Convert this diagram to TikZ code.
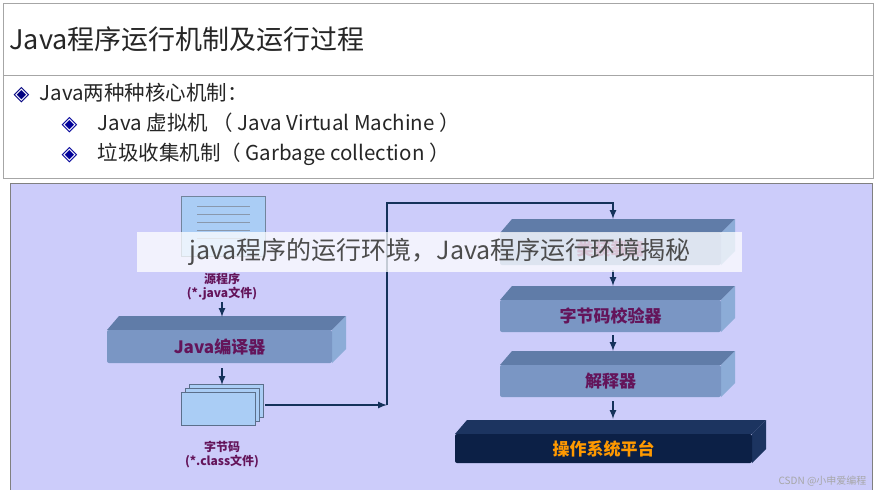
\documentclass[tikz,border=0pt]{standalone}
\usepackage{fontspec}
\setmainfont{Liberation Sans}
\newfontfamily\cjk{Noto Sans CJK SC}
\newfontfamily\sym{DejaVu Sans}
\usetikzlibrary{positioning}
\definecolor{panel}{RGB}{204,204,250}
\definecolor{slabfront}{RGB}{122,150,196}
\definecolor{slabtop}{RGB}{96,124,168}
\definecolor{slabside}{RGB}{140,172,215}
\definecolor{osfront}{RGB}{12,32,70}
\definecolor{ostop}{RGB}{28,52,96}
\definecolor{flow}{RGB}{20,50,90}
\definecolor{plum}{RGB}{100,20,90}
\definecolor{doc}{RGB}{170,205,245}
\tikzset{
    flowline/.style={flow, line width=2pt},
    flowarrow/.style={flow, line width=2pt, -latex},
    label/.style={font=\fontsize{12}{14}\selectfont\cjk\bfseries, text=plum, align=center, inner sep=0pt},
    boxtext/.style={font=\fontsize{17}{20}\selectfont\cjk\bfseries, text=plum},
    headtext/.style={anchor=west, font=\fontsize{20.5}{24}\selectfont\cjk, text=black!85},
}
% slab: name, x1, y1 (front top-left), x2, y2 (front bottom-right), front, top, side colours, text
\newcommand{\slab}[9]{%
    \fill[#7] (#2,#3) -- (#2+12,#3-14) -- (#4+14,#3-14) -- (#4,#3) -- cycle;
    \fill[#8] (#4,#3) -- (#4+14,#3-14) -- (#4+14,#5-14) -- (#4,#5) -- cycle;
    \fill[#6, rounded corners=2pt] (#2,#3) rectangle (#4,#5);
    \node[boxtext] (#1) at ({(#2+#4)/2},{(#3+#5)/2}) {#9};
}
\begin{document}
\begin{tikzpicture}[x=1pt, y=-1pt]
    \useasboundingbox (0,0) rectangle (879,490);
    \fill[white] (0,0) rectangle (879,490);

    % header
    \draw[gray!70] (3,3) rectangle (873,75);
    \draw[gray!70] (3,75) rectangle (873,178);
    \node[anchor=west, font=\fontsize{27}{30}\selectfont\cjk, text=black!85] (title) at (6,39) {Java程序运行机制及运行过程};
    \node[headtext] (core) at (10,93) {{\sym\color{blue!50!black}◈}\enspace Java两种种核心机制：};
    \node[headtext] (jvm) at (58,123) {{\sym\color{blue!60!black}◈}\quad Java 虚拟机 （ Java Virtual Machine ）};
    \node[headtext] (gc) at (58,154) {{\sym\color{blue!60!black}◈}\quad 垃圾收集机制（ Garbage collection ）};

    % panel
    \draw[gray, fill=panel] (10,183) rectangle (872,490);

    % source file
    \draw[flow!60, fill=doc] (181,196) rectangle (265,256);
    \foreach \y in {206,214,222,230,238}
        \draw[flow!50, line width=1pt] (197,\y) -- (250,\y);
    \node[label] (src) at (222,287) {源程序\\(*.java文件)};

    % compiler
    \slab{comp}{107}{330}{332}{363}{slabfront}{slabtop}{slabside}{Java编译器}

    % bytecode files
    \foreach \d in {8,4,0}
        \draw[flow!70, fill=doc] (181+\d,392-\d) rectangle (255+\d,425-\d);
    \node[label] (cls) at (222,455) {字节码\\(*.class文件)};
    \coordinate (clsout) at (265,405);

    % right stack
    \slab{loader}{500}{233}{721}{265}{slabfront}{slabtop}{slabside}{类装载器}
    \slab{verify}{500}{300}{721}{332}{slabfront}{slabtop}{slabside}{字节码校验器}
    \slab{interp}{500}{365}{721}{397}{slabfront}{slabtop}{slabside}{解释器}
    \slab{os}{455}{434}{752}{463}{osfront}{ostop}{ostop}{\color{orange!80!yellow}操作系统平台}

    % arrows
    \draw[flowarrow] (222,302) -- (222,317);
    \draw[flowarrow] (222,368) -- (222,385);
    \draw[flowarrow] (clsout) -- (387,405);
    \draw[flowline] (387,405) -- (387,203) -- (613,203);
    \draw[flowarrow] (613,202) -- (613,219);
    \draw[flowarrow] (613,270) -- (613,286);
    \draw[flowarrow] (613,335) -- (613,351);
    \draw[flowarrow] (613,401) -- (613,419);

    % overlay caption
    \fill[white, opacity=0.75] (137,232) rectangle (742,272);
    \node[font=\fontsize{25}{28}\selectfont\cjk, text=black!70] (caption) at (440,252) {java程序的运行环境，Java程序运行环境揭秘};
    \node[anchor=east, font=\fontsize{10}{12}\selectfont\cjk, text=gray!70] (mark) at (870,481) {CSDN @小申爱编程};
\end{tikzpicture}
\end{document}
